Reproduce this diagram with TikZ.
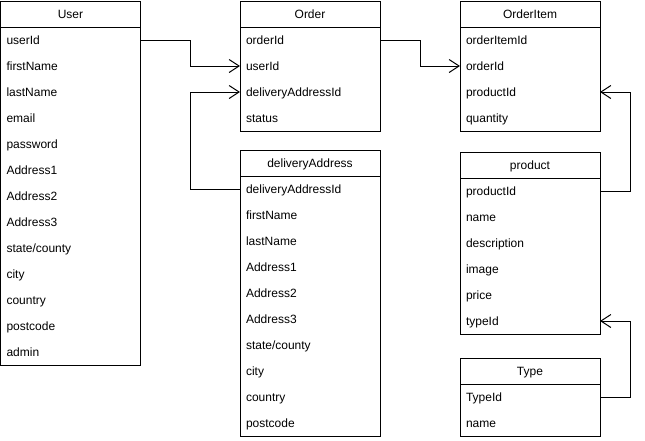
\documentclass[tikz,border=0pt]{standalone}
\usepackage{fontspec}
\setmainfont{Liberation Sans}
\usetikzlibrary{arrows.meta}
\usetikzlibrary{positioning}
\tikzstyle{header} = [rectangle, draw=black, line width=1pt, minimum width=140pt, minimum height=26pt, inner sep=0pt, outer sep=0pt, text height=10pt, text depth=1pt, text centered, font=\fontsize{12}{14}\selectfont]
\tikzstyle{field} = [rectangle, minimum height=26pt, inner xsep=6pt, inner ysep=0pt, outer sep=0pt, text width=128pt, align=left, text height=10pt, text depth=1pt, font=\fontsize{12}{14}\selectfont]
\tikzstyle{table} = [draw=black, line width=1pt]
\tikzstyle{fk} = [line width=1pt, -{Straight Barb[length=10pt,width=13pt,line width=1pt]}]

\begin{document}
\begin{tikzpicture}[x=1pt,y=1pt]
\useasboundingbox (0,0) rectangle (645,-440);

% User
\node (u0) [header] at (70.5,-14) {User};
\node (u1) [field, below=0pt of u0] {userId};
\node (u2) [field, below=0pt of u1] {firstName};
\node (u3) [field, below=0pt of u2] {lastName};
\node (u4) [field, below=0pt of u3] {email};
\node (u5) [field, below=0pt of u4] {password};
\node (u6) [field, below=0pt of u5] {Address1};
\node (u7) [field, below=0pt of u6] {Address2};
\node (u8) [field, below=0pt of u7] {Address3};
\node (u9) [field, below=0pt of u8] {state/county};
\node (u10) [field, below=0pt of u9] {city};
\node (u11) [field, below=0pt of u10] {country};
\node (u12) [field, below=0pt of u11] {postcode};
\node (u13) [field, below=0pt of u12] {admin};
\draw [table] (u0.north west) rectangle (u13.south east);

% Order
\node (o0) [header] at (310,-14) {Order};
\node (o1) [field, below=0pt of o0] {orderId};
\node (o2) [field, below=0pt of o1] {userId};
\node (o3) [field, below=0pt of o2] {deliveryAddressId};
\node (o4) [field, below=0pt of o3] {status};
\draw [table] (o0.north west) rectangle (o4.south east);

% OrderItem
\node (i0) [header] at (530,-14) {OrderItem};
\node (i1) [field, below=0pt of i0] {orderItemId};
\node (i2) [field, below=0pt of i1] {orderId};
\node (i3) [field, below=0pt of i2] {productId};
\node (i4) [field, below=0pt of i3] {quantity};
\draw [table] (i0.north west) rectangle (i4.south east);

% deliveryAddress
\node (d0) [header] at (310,-163) {deliveryAddress};
\node (d1) [field, below=0pt of d0] {deliveryAddressId};
\node (d2) [field, below=0pt of d1] {firstName};
\node (d3) [field, below=0pt of d2] {lastName};
\node (d4) [field, below=0pt of d3] {Address1};
\node (d5) [field, below=0pt of d4] {Address2};
\node (d6) [field, below=0pt of d5] {Address3};
\node (d7) [field, below=0pt of d6] {state/county};
\node (d8) [field, below=0pt of d7] {city};
\node (d9) [field, below=0pt of d8] {country};
\node (d10) [field, below=0pt of d9] {postcode};
\draw [table] (d0.north west) rectangle (d10.south east);

% product
\node (p0) [header] at (530,-165) {product};
\node (p1) [field, below=0pt of p0] {productId};
\node (p2) [field, below=0pt of p1] {name};
\node (p3) [field, below=0pt of p2] {description};
\node (p4) [field, below=0pt of p3] {image};
\node (p5) [field, below=0pt of p4] {price};
\node (p6) [field, below=0pt of p5] {typeId};
\draw [table] (p0.north west) rectangle (p6.south east);

% Type
\node (t0) [header] at (530,-371) {Type};
\node (t1) [field, below=0pt of t0] {TypeId};
\node (t2) [field, below=0pt of t1] {name};
\draw [table] (t0.north west) rectangle (t2.south east);

% foreign keys
\draw [fk] (u1.east) -- ++(50,0) |- (o2.west);
\draw [fk] (d1.west) -- ++(-50,0) |- (o3.west);
\draw [fk] (o1.east) -- ++(40,0) |- (i2.west);
\draw [fk] (p1.east) -- ++(30,0) |- (i3.east);
\draw [fk] (t1.east) -- ++(30,0) |- (p6.east);

\end{tikzpicture}
\end{document}
